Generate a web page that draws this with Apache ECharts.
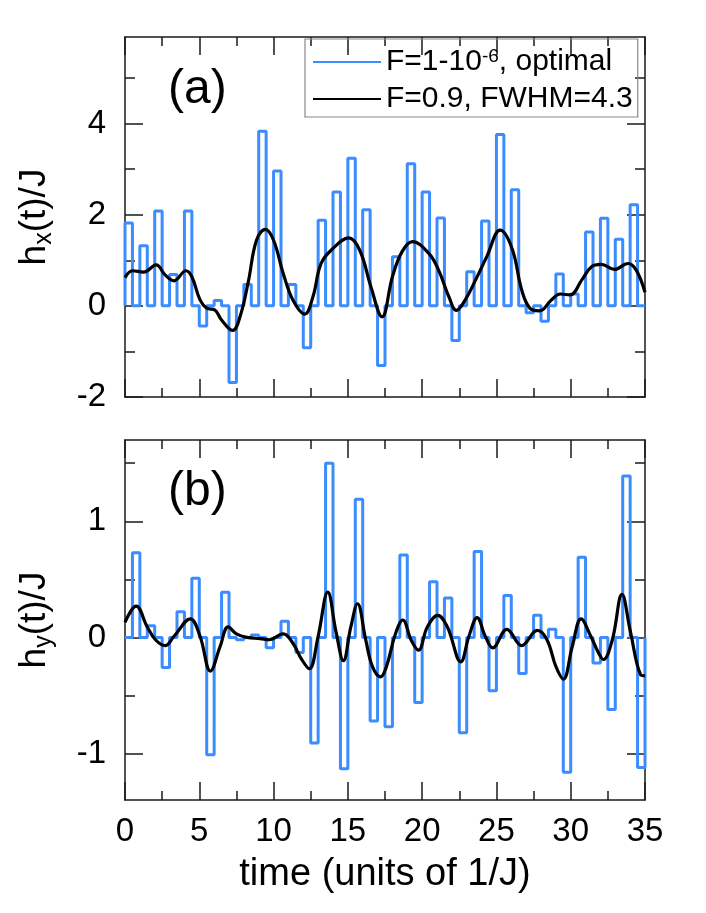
<!DOCTYPE html>
<html>
<head>
<meta charset="utf-8">
<script src="https://cdn.jsdelivr.net/npm/echarts@6/dist/echarts.min.js"></script>
<style>
html,body{margin:0;padding:0;background:#fff;}
#chart{width:706px;height:913px;}
</style>
</head>
<body>
<div id="chart"></div>
<script>
// pulse heights: hx pulse on [k, k+0.5), hy pulse on [k+0.5, k+1)
const hxPulse = [1.82, 1.32, 2.08, 0.69, 2.08, -0.44, 0.12, -1.68, 0.47, 3.83,
  2.96, 0.47, -0.92, 1.88, 2.50, 3.24, 2.11, -1.31, 1.08, 3.12,
  2.50, 1.93, -0.76, 0.75, 1.86, 3.76, 2.55, -0.15, -0.34, 0.70,
  0.26, 1.62, 1.92, 1.46, 2.22];
const hyPulse = [0.73, 0.10, -0.26, 0.22, 0.51, -1.01, 0.39, -0.02, 0.02, -0.09,
  0.14, -0.13, -0.91, 1.50, -1.13, 1.19, -0.72, -0.77, 0.71, -0.56,
  0.48, 0.34, -0.82, 0.74, -0.46, 0.36, -0.31, 0.19, 0.07, -1.16,
  0.69, -0.22, -0.62, 1.39, -1.12];

// smooth pulses (F=0.9)
const hxFitT = [0, 0.5, 1.25, 2.1, 2.7, 3.3, 4.1, 4.5, 5.05, 5.5, 6.05, 6.5, 7.25, 7.75, 8.3, 8.85, 9.45, 10.0,
  10.65, 11.3, 12.1, 12.65, 13.2, 14.0, 15.05, 15.8, 16.55, 17.3, 18.0, 18.65, 19.35, 20.45, 21.1, 21.8,
  22.3, 22.9, 23.6, 24.35, 25.25, 26.05, 26.7, 27.25, 27.9, 28.7, 29.3, 29.95, 30.75, 31.4, 32.05, 32.95,
  33.85, 34.4, 35];
const hxFit = [0.62, 0.77, 0.74, 0.90, 0.68, 0.55, 0.77, 0.64, 0.13, -0.05, -0.09, -0.31, -0.54, -0.23, 0.53, 1.44, 1.68, 1.44,
  0.71, 0.13, -0.18, 0.20, 0.93, 1.26, 1.49, 1.22, 0.42, -0.24, 0.64, 1.19, 1.41, 1.15, 0.79, 0.20,
  -0.10, 0.13, 0.57, 1.08, 1.66, 1.26, 0.35, -0.05, -0.11, 0.13, 0.26, 0.24, 0.57, 0.86, 0.91, 0.80,
  0.93, 0.79, 0.30];
const hyFitT = [0, 0.75, 1.5, 2.05, 2.7, 3.3, 4.4, 5.05, 5.75, 6.4, 6.95, 7.5, 8.2, 9.1, 9.7, 10.65, 11.3, 11.85,
  12.4, 13.0, 13.65, 14.2, 14.7, 15.2, 15.65, 16.2, 16.65, 17.2, 17.6, 18.2, 18.7, 19.25, 19.75, 20.35,
  21.05, 21.7, 22.6, 23.15, 23.7, 24.25, 24.75, 25.7, 26.7, 27.75, 28.4, 29.0, 29.5, 30.1, 30.7, 31.35,
  31.9, 32.2, 32.8, 33.45, 34.0, 34.7, 35];
const hyFit = [0.13, 0.27, 0.09, -0.02, -0.07, 0.01, 0.16, 0.01, -0.29, -0.08, 0.09, 0.03, 0.00, -0.01, -0.02, 0.03, -0.05, -0.18,
  -0.27, 0.01, 0.39, 0.05, -0.20, 0.09, 0.29, -0.02, -0.25, -0.34, -0.25, 0.03, 0.15, -0.02, -0.11, 0.09,
  0.19, 0.09, -0.21, 0.01, 0.17, 0.01, -0.09, 0.07, -0.07, 0.06, -0.02, -0.25, -0.36, -0.08, 0.16, 0.01,
  -0.14, -0.19, -0.02, 0.37, 0.06, -0.32, -0.33];

// axis ticks
const hxTicks = [-2, 0, 2, 4];
const hxMinor = [-1, 1, 3, 5];
const hyTicks = [-1, 0, 1];
const hyMinor = [-0.5, 0.5, 1.5];

const FONT = 'Liberation Sans, Arial, sans-serif';
const BLUE = '#3a8cff';
const AX = '#1a1a1a';

// step line points built from the pulse arrays
function pulsePoints(vals, offset) {
  const pts = [[0, 0]];
  vals.forEach((v, k) => {
    pts.push([k + offset, v]);
    pts.push([k + offset + 0.5, 0]);
  });
  if (pts[pts.length - 1][0] < 35) pts.push([35, 0]);
  return pts;
}
const zip = (a, b) => a.map((t, i) => [t, b[i]]);

function xAx(grid, pos, labels) {
  return {
    type: 'value', gridIndex: grid, position: pos, min: 0, max: 35, interval: 5,
    axisLine: { show: true, onZero: false, lineStyle: { color: AX, width: 1.5 } },
    axisTick: { inside: true, length: 18, lineStyle: { color: AX, width: 1.5 } },
    minorTick: { show: true, splitNumber: 2, length: 9, lineStyle: { color: AX, width: 1.5 } },
    splitLine: { show: false },
    axisLabel: { show: labels, fontSize: 33, color: '#000', fontFamily: FONT, margin: 15 },
    name: labels ? 'time (units of 1/J)' : '',
    nameLocation: 'middle', nameGap: 56,
    nameTextStyle: { fontSize: 38, color: '#000', fontFamily: FONT }
  };
}

function yAx(grid, pos, min, max, ticks, len, labels, line, name) {
  return {
    type: 'value', gridIndex: grid, position: pos, min: min, max: max,
    axisLine: { show: line, onZero: false, lineStyle: { color: AX, width: 1.5 } },
    axisTick: { inside: true, length: len, customValues: ticks, lineStyle: { color: AX, width: 1.5 } },
    splitLine: { show: false },
    axisLabel: { show: labels, customValues: ticks, fontSize: 33, color: '#000', fontFamily: FONT, margin: 19 },
    name: name || '',
    nameLocation: 'middle', nameGap: 68, nameRotate: 90,
    nameTextStyle: {
      fontFamily: FONT, color: '#000',
      rich: {
        m: { fontSize: 37, lineHeight: 44, fontFamily: FONT, color: '#000' },
        s: { fontSize: 25, lineHeight: 18, verticalAlign: 'bottom', fontFamily: FONT, color: '#000' }
      }
    }
  };
}

const nameOpt = 'F=1-10^-6, optimal';
const nameFit = 'F=0.9, FWHM=4.3';

const chart = echarts.init(document.getElementById('chart'));
chart.setOption({
  animation: false,
  backgroundColor: '#fff',
  grid: [
    { left: 125, top: 37, width: 520, height: 360 },
    { left: 125, top: 440, width: 520, height: 360 }
  ],
  xAxis: [
    xAx(0, 'bottom', false), xAx(0, 'top', false),
    xAx(1, 'bottom', true), xAx(1, 'top', false)
  ],
  yAxis: [
    yAx(0, 'left', -2, 5.9, hxTicks, 18, true, true, '{m|h}{s|x}{m|(t)/J}'),
    yAx(0, 'left', -2, 5.9, hxMinor, 10, false, false),
    yAx(0, 'right', -2, 5.9, hxTicks, 18, false, true),
    yAx(0, 'right', -2, 5.9, hxMinor, 10, false, false),
    yAx(1, 'left', -1.4, 1.7, hyTicks, 18, true, true, '{m|h}{s|y}{m|(t)/J}'),
    yAx(1, 'left', -1.4, 1.7, hyMinor, 10, false, false),
    yAx(1, 'right', -1.4, 1.7, hyTicks, 18, false, true),
    yAx(1, 'right', -1.4, 1.7, hyMinor, 10, false, false)
  ],
  legend: {
    data: [
      { name: nameOpt, icon: 'rect' },
      { name: nameFit, icon: 'rect' }
    ],
    orient: 'vertical', left: 305, top: 39,
    borderColor: '#888', borderWidth: 1.2, borderRadius: 0,
    padding: [8, 5, 3, 8], itemGap: 7, itemWidth: 68, itemHeight: 2,
    formatter: n => n === nameOpt ? '{m|F=1-10}{p|-6}{m|, optimal}' : '{m|' + n + '}',
    textStyle: {
      fontFamily: FONT, color: '#000', fontSize: 30, lineHeight: 30,
      rich: {
        m: { fontSize: 30, lineHeight: 30, fontFamily: FONT, color: '#000' },
        p: { fontSize: 19, lineHeight: 14, verticalAlign: 'top', fontFamily: FONT, color: '#000' }
      }
    }
  },
  graphic: [
    { type: 'text', left: 168, top: 66, style: { text: '(a)', font: '48px ' + FONT, fill: '#000' } },
    { type: 'text', left: 168, top: 468, style: { text: '(b)', font: '48px ' + FONT, fill: '#000' } }
  ],
  series: [
    {
      name: nameOpt, type: 'line', xAxisIndex: 0, yAxisIndex: 0, step: 'end', symbol: 'none',
      lineStyle: { color: BLUE, width: 3 }, itemStyle: { color: BLUE },
      data: pulsePoints(hxPulse, 0)
    },
    {
      name: nameFit, type: 'line', xAxisIndex: 0, yAxisIndex: 0, smooth: 0.4, symbol: 'none',
      lineStyle: { color: '#000', width: 3.2 }, itemStyle: { color: '#000' },
      data: zip(hxFitT, hxFit)
    },
    {
      name: 'hy optimal', type: 'line', xAxisIndex: 2, yAxisIndex: 4, step: 'end', symbol: 'none',
      lineStyle: { color: BLUE, width: 3 }, itemStyle: { color: BLUE },
      data: pulsePoints(hyPulse, 0.5)
    },
    {
      name: 'hy fit', type: 'line', xAxisIndex: 2, yAxisIndex: 4, smooth: 0.4, symbol: 'none',
      lineStyle: { color: '#000', width: 3.2 }, itemStyle: { color: '#000' },
      data: zip(hyFitT, hyFit)
    }
  ]
});
</script>
</body>
</html>
